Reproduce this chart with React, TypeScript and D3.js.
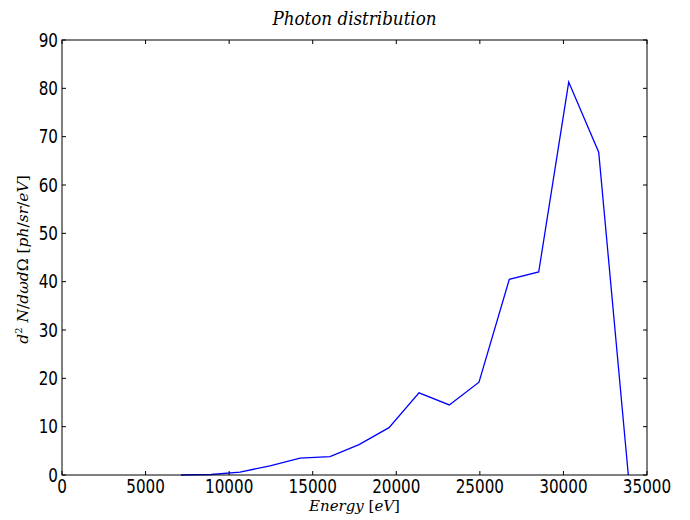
import { useMemo } from 'react';
import * as d3 from 'd3';

// values (energy in eV, photons per sr per eV)
const energies = [
  7120, 8915, 10650, 12445, 14240, 16034, 17770, 19564, 21360, 23172, 24949, 26762, 28521, 30316,
  32111, 33882,
];
const counts = [0, 0.1, 0.6, 1.9, 3.5, 3.8, 6.3, 9.8, 17.0, 14.5, 19.2, 40.5, 42.0, 81.3, 66.8, 0];
const xTicks = [0, 5000, 10000, 15000, 20000, 25000, 30000, 35000];
const yTicks = [0, 10, 20, 30, 40, 50, 60, 70, 80, 90];

const W = 690;
const H = 520;
const margin = { left: 62, right: 43, top: 40, bottom: 45 };
const tickFont = '"DejaVu Sans", sans-serif';
const mathFont = '"DejaVu Serif", serif';
const tickSize = 19;
const squeeze = 0.8; // tick labels in the reference are narrow

export default function App() {
  const x = d3
    .scaleLinear()
    .domain([0, 35000])
    .range([margin.left, W - margin.right]);
  const y = d3
    .scaleLinear()
    .domain([0, 90])
    .range([H - margin.bottom, margin.top]);

  const path = useMemo(
    () =>
      d3
        .line<number>()
        .x((_, i) => x(energies[i]))
        .y((v) => y(v))(counts) ?? '',
    []
  );

  const x0 = margin.left;
  const x1 = W - margin.right;
  const y0 = H - margin.bottom;
  const y1 = margin.top;

  return (
    <svg
      width={W}
      height={H}
      viewBox={`0 0 ${W} ${H}`}
      style={{ position: 'absolute', left: 0, top: 0, background: '#fff' }}
    >
      <rect x={0} y={0} width={W} height={H} fill="#fff" />
      <path d={path} fill="none" stroke="#0000ff" strokeWidth={1.3} />

      {/* frame */}
      <rect x={x0} y={y1} width={x1 - x0} height={y0 - y1} fill="none" stroke="#000" strokeWidth={1} />

      {xTicks.map((t) => (
        <g key={`x${t}`}>
          <line x1={x(t)} x2={x(t)} y1={y0} y2={y0 - 4} stroke="#000" />
          <line x1={x(t)} x2={x(t)} y1={y1} y2={y1 + 4} stroke="#000" />
          <text
            transform={`translate(${x(t)},${y0 + 18}) scale(${squeeze},1)`}
            textAnchor="middle"
            fontFamily={tickFont}
            fontSize={tickSize}
            fill="#000"
          >
            {t}
          </text>
        </g>
      ))}

      {yTicks.map((t) => (
        <g key={`y${t}`}>
          <line x1={x0} x2={x0 + 4} y1={y(t)} y2={y(t)} stroke="#000" />
          <line x1={x1} x2={x1 - 4} y1={y(t)} y2={y(t)} stroke="#000" />
          <text
            transform={`translate(${x0 - 4},${y(t) + 6.5}) scale(${squeeze},1)`}
            textAnchor="end"
            fontFamily={tickFont}
            fontSize={tickSize}
            fill="#000"
          >
            {t}
          </text>
        </g>
      ))}

      <text
        transform={`translate(${(x0 + x1) / 2},25) scale(0.93,1)`}
        textAnchor="middle"
        fontFamily={mathFont}
        fontStyle="italic"
        fontSize={18}
        fill="#000"
      >
        Photon distribution
      </text>

      <text
        x={(x0 + x1) / 2}
        y={511}
        textAnchor="middle"
        fontFamily={mathFont}
        fontSize={15}
        fill="#000"
      >
        <tspan fontStyle="italic">Energy</tspan>
        <tspan> [</tspan>
        <tspan fontStyle="italic">eV</tspan>
        <tspan>]</tspan>
      </text>

      <text
        transform={`translate(28, ${(y0 + y1) / 2 + 2}) rotate(-90)`}
        textAnchor="middle"
        fontFamily={mathFont}
        fontSize={15.5}
        fill="#000"
      >
        <tspan fontStyle="italic">d</tspan>
        <tspan fontSize={10} dy={-6}>2</tspan>
        <tspan dy={6}> </tspan>
        <tspan fontStyle="italic">N</tspan>
        <tspan>/</tspan>
        <tspan fontStyle="italic">dωd</tspan>
        <tspan>Ω [</tspan>
        <tspan fontStyle="italic">ph</tspan>
        <tspan>/</tspan>
        <tspan fontStyle="italic">sr</tspan>
        <tspan>/</tspan>
        <tspan fontStyle="italic">eV</tspan>
        <tspan>]</tspan>
      </text>
    </svg>
  );
}
